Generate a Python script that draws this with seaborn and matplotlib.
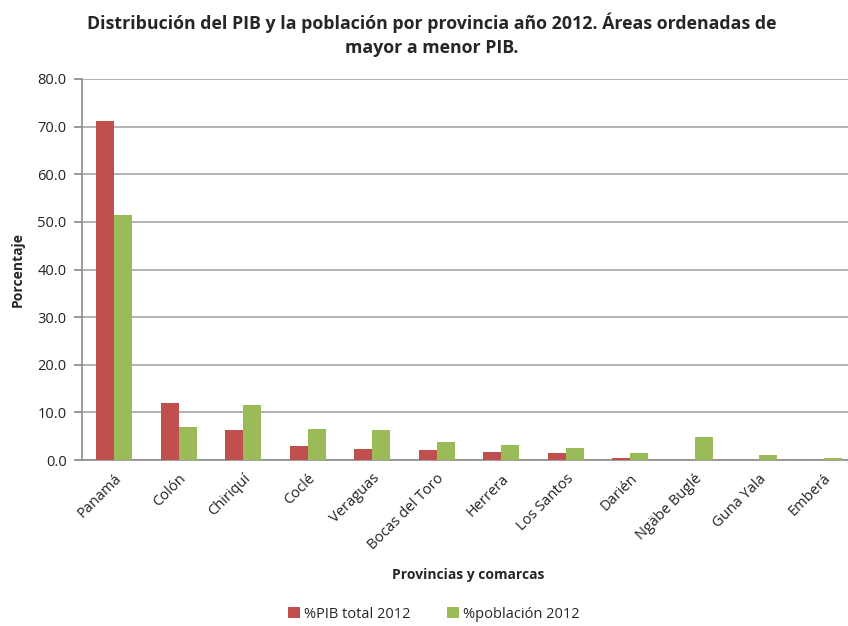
import matplotlib
matplotlib.use("Agg")
import matplotlib.pyplot as plt
import seaborn as sns
import pandas as pd
from matplotlib.ticker import FormatStrFormatter

categories = ["Panamá", "Colón", "Chiriquí", "Coclé", "Veraguas", "Bocas del Toro",
              "Herrera", "Los Santos", "Darién", "Ngäbe Buglé", "Guna Yala", "Emberá"]
pib = [71.2, 12.0, 6.3, 2.9, 2.3, 2.0, 1.7, 1.5, 0.5, 0.0, 0.0, 0.0]
poblacion = [51.4, 6.9, 11.5, 6.5, 6.3, 3.8, 3.1, 2.5, 1.5, 4.8, 1.1, 0.35]
series_names = ["%PIB total 2012", "%población 2012"]

df = pd.DataFrame({
    "Provincia": categories * 2,
    "Serie": [series_names[0]] * len(categories) + [series_names[1]] * len(categories),
    "Valor": pib + poblacion,
})

sns.set_theme(style="white")
plt.rcParams["font.family"] = ["Open Sans", "DejaVu Sans"]

W, H = 848, 626
left, right, top, bottom = 82, 856, 79, 460
fig = plt.figure(figsize=(W / 100, H / 100), dpi=100)
ax = fig.add_axes([left / W, 1 - bottom / H, (right - left) / W, (bottom - top) / H])

sns.barplot(data=df, x="Provincia", y="Valor", hue="Serie",
            palette=["#C0504D", "#9BBB59"], saturation=1, width=0.56, gap=0,
            linewidth=0, ax=ax, zorder=3)

ax.set_ylim(0, 80)
ax.set_yticks([0, 10, 20, 30, 40, 50, 60, 70, 80])
ax.yaxis.set_major_formatter(FormatStrFormatter("%.1f"))
ax.set_xlim(-0.5, len(categories) - 0.5)
ax.yaxis.grid(True, color="#A6A6A6", linewidth=1.2, zorder=0)
ax.set_axisbelow(True)
for s in ["top", "right"]:
    ax.spines[s].set_visible(False)
for s in ["left", "bottom"]:
    ax.spines[s].set_color("#8C8C8C")
    ax.spines[s].set_linewidth(1.2)
ax.tick_params(axis="y", which="major", left=True, length=6, color="#8C8C8C",
               labelsize=10.5, labelcolor="#222222", pad=5)
ax.tick_params(axis="x", which="major", bottom=False, labelsize=10.5, labelcolor="#222222", pad=2)
plt.setp(ax.get_xticklabels(), rotation=45, ha="right", rotation_mode="anchor")

ax.set_xlabel("Provincias y comarcas", fontsize=10, fontweight="bold")
ax.set_ylabel("Porcentaje", fontsize=10, fontweight="bold")
aw, ah = right - left, bottom - top
ax.xaxis.set_label_coords((468 - left) / aw, -(575 - bottom) / ah, transform=ax.transAxes)
ax.yaxis.set_label_coords(-(left - 18) / aw, 0.5, transform=ax.transAxes)
ax.xaxis.label.set_va("center")
ax.yaxis.label.set_va("center")

fig.text(432 / W, 1 - 35 / H,
         "Distribución del PIB y la población por provincia año 2012. Áreas ordenadas de\nmayor a menor PIB.",
         ha="center", va="center", fontsize=12.8, fontweight="bold", linespacing=1.45)

ax.legend(loc="center", bbox_to_anchor=((434 - left) / aw, -(614 - bottom) / ah), ncol=2, frameon=False,
          fontsize=10.5, handlelength=0.8, handleheight=0.8, handletextpad=0.3,
          columnspacing=2.5)

fig.savefig("out.png", dpi=100)
